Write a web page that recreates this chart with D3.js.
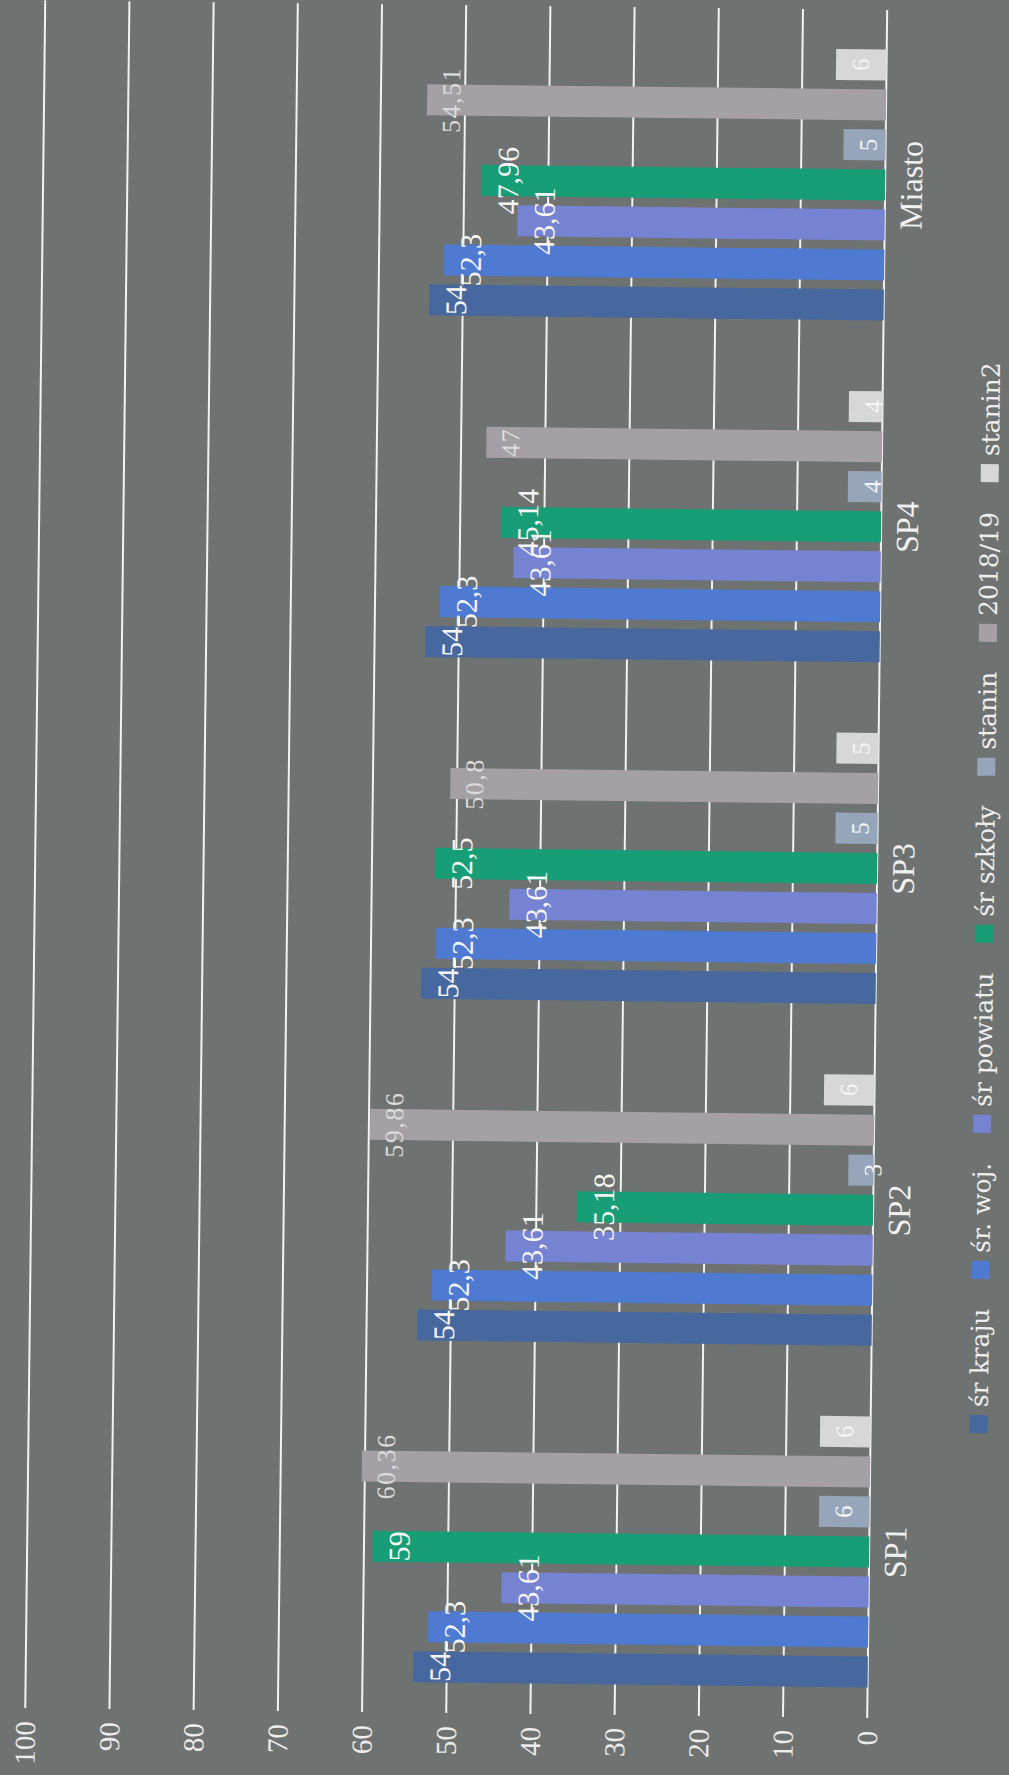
<!DOCTYPE html>
<html>
<head>
<meta charset="utf-8">
<script src="https://cdn.jsdelivr.net/npm/d3@7"></script>
<style>
  html, body { margin: 0; padding: 0; background: #6e7271; }
  svg { display: block; }
</style>
</head>
<body>
<svg id="chart" width="1009" height="1775"></svg>
<script>
// ---- data ----
const categories = ["SP1", "SP2", "SP3", "SP4", "Miasto"];
const seriesNames = ["śr kraju", "śr. woj.", "śr powiatu", "śr szkoły", "stanin", "2018/19", "stanin2"];
const srKraju   = [54, 54, 54, 54, 54];
const srWoj     = [52.3, 52.3, 52.3, 52.3, 52.3];
const srPowiatu = [43.61, 43.61, 43.61, 43.61, 43.61];
const srSzkoly  = [59, 35.18, 52.5, 45.14, 47.96];
const stanin    = [6, 3, 5, 4, 5];
const wynik2018 = [60.36, 59.86, 50.8, 47, 54.51];
const stanin2   = [6, 6, 5, 4, 6];
const valueTicks = [0, 10, 20, 30, 40, 50, 60, 70, 80, 90, 100];
const seriesColors = ["#46689e", "#4e7ad2", "#7682d2", "#189e76", "#96a5b9", "#a5a0a6", "#d7d7d7"];

const seriesValues = [srKraju, srWoj, srPowiatu, srSzkoly, stanin, wynik2018, stanin2];

// ---- layout ----
const svg = d3.select("#chart");
svg.append("rect").attr("width", 1009).attr("height", 1775).attr("fill", "#6e7271");

// the page is photographed rotated: whole chart in a slightly tilted group
const g = svg.append("g").attr("transform", "rotate(0.67, 877, 880)");

const x = d3.scaleLinear().domain([0, 100]).range([877, 35]);
const step = (1552 - 185) / 4;
const y0 = d3.scaleBand().domain(categories)
  .range([1552 + step / 2, 185 - step / 2])
  .paddingInner(0.207).paddingOuter(0.1035);
const y1 = d3.scaleBand().domain(seriesNames)
  .range([y0.bandwidth(), 0])
  .paddingInner(0.225).paddingOuter(0);

// gridlines
g.append("g").selectAll("line").data(valueTicks).join("line")
  .attr("x1", d => x(d)).attr("x2", d => x(d))
  .attr("y1", 10).attr("y2", 1718)
  .attr("stroke", "#f2f2f2").attr("stroke-width", 2);

// bars
const records = [];
categories.forEach((c, ci) => {
  seriesNames.forEach((s, si) => {
    records.push({ cat: c, series: s, si: si, value: seriesValues[si][ci] });
  });
});

g.append("g").selectAll("rect").data(records).join("rect")
  .attr("x", d => x(d.value))
  .attr("y", d => y0(d.cat) + y1(d.series))
  .attr("width", d => x(0) - x(d.value))
  .attr("height", y1.bandwidth())
  .attr("fill", d => seriesColors[d.si]);

// value labels
const fmt = v => String(v).replace(".", ",");
const labelStyle = si => {
  if (si <= 3) return { size: 30, off: 37, fill: "#f6f6f6", ls: 0 };
  if (si === 5) return { size: 26, off: 33, fill: "#dcdcdc", ls: 1.5 };
  return { size: 25, off: 33, fill: "#f4f4f4", ls: 0 };
};
g.append("g").selectAll("text").data(records).join("text")
  .attr("transform", d => {
    const st = labelStyle(d.si);
    const tx = x(d.value) + st.off;
    const ty = y0(d.cat) + y1(d.series) + y1.bandwidth() / 2;
    return `translate(${tx},${ty}) rotate(-90)`;
  })
  .attr("text-anchor", "middle")
  .attr("font-family", "'Liberation Serif', 'Times New Roman', serif")
  .attr("font-size", d => labelStyle(d.si).size)
  .attr("letter-spacing", d => labelStyle(d.si).ls)
  .attr("fill", d => labelStyle(d.si).fill)
  .text(d => fmt(d.value));

// value axis tick labels
g.append("g").selectAll("text").data(valueTicks).join("text")
  .attr("transform", d => `translate(${x(d) + 10},1731) rotate(-90)`)
  .attr("text-anchor", "end")
  .attr("font-family", "'Liberation Serif', 'Times New Roman', serif")
  .attr("font-size", 29)
  .attr("fill", "#ececec")
  .text(d => d);

// category labels
g.append("g").selectAll("text").data(categories).join("text")
  .attr("transform", d => `translate(${x(0) + 37},${y0(d) + y0.bandwidth() / 2}) rotate(-90)`)
  .attr("text-anchor", "middle")
  .attr("font-family", "'Liberation Serif', 'Times New Roman', serif")
  .attr("font-size", 32)
  .attr("fill", "#f0f0f0")
  .text(d => d);

// legend (reads bottom to top)
const legend = g.append("g");
const legFont = 25, sq = 18, sqGap = 8;
const legStart = 1432, legEnd = 361;
const items = seriesNames.map((s, i) => {
  const t = legend.append("text")
    .attr("text-anchor", "start")
    .attr("font-family", "'DejaVu Serif', serif")
    .attr("font-size", legFont)
    .attr("fill", "#efefef")
    .text(s);
  return { s, i, t, len: t.node().getComputedTextLength() };
});
const totalText = d3.sum(items, d => d.len);
const itemGap = ((legStart - legEnd) - totalText - items.length * (sq + sqGap)) / (items.length - 1);
let cursor = legStart;
items.forEach(it => {
  legend.append("rect")
    .attr("x", 976).attr("y", cursor - sq)
    .attr("width", sq).attr("height", sq)
    .attr("fill", seriesColors[it.i]);
  cursor -= sq + sqGap;
  it.t.attr("transform", `translate(994,${cursor}) rotate(-90)`);
  cursor -= it.len + itemGap;
});
</script>
</body>
</html>
